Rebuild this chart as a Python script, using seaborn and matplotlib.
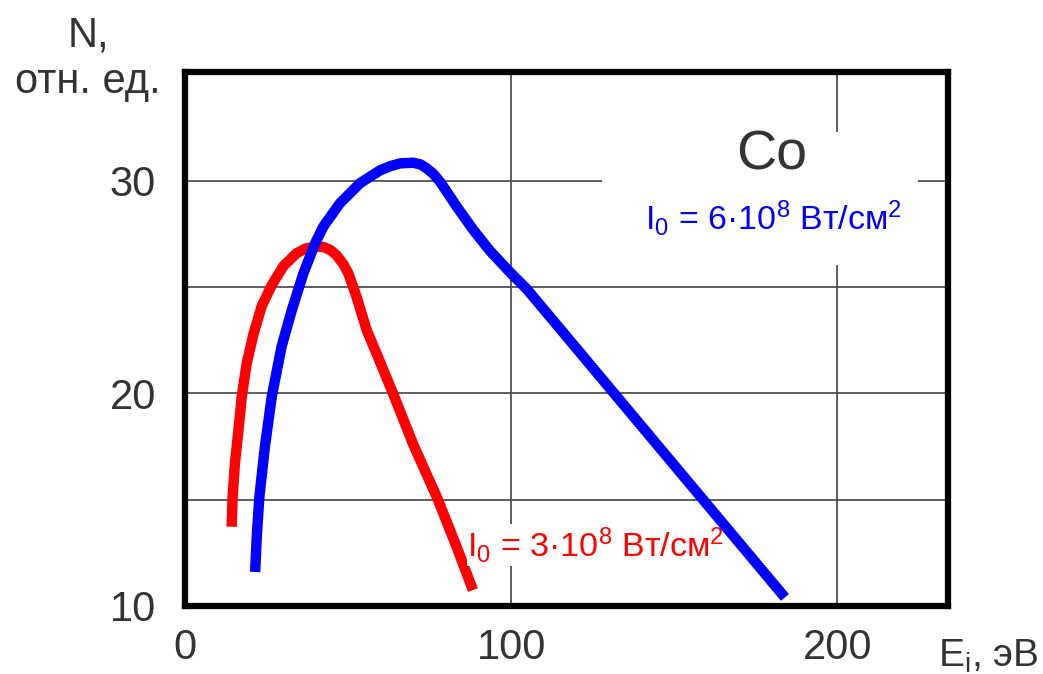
import matplotlib
matplotlib.use("Agg")
import matplotlib.pyplot as plt
import seaborn as sns
import pandas as pd
from matplotlib.ticker import FixedLocator
from matplotlib.patches import Rectangle

# Data
red_x = [14.3, 14.6, 15.3, 16.4, 17.4, 18.9, 21.0, 23.5, 26.6, 30.2, 34.2, 37.0, 39.4, 42.4,
         44.6, 46.5, 48.5, 50.1, 52.6, 55.7, 59.5, 63.8, 70.0, 77.3, 83.0, 88.3]
red_y = [13.73, 15.14, 16.7, 18.3, 19.85, 21.4, 22.8, 24.1, 25.1, 26.0, 26.6, 26.82, 26.9, 26.9,
         26.75, 26.5, 26.1, 25.65, 24.55, 22.99, 21.6, 20.0, 17.6, 15.1, 12.9, 10.75]

blue_x = [21.5, 22.0, 22.8, 24.5, 26.6, 29.6, 32.7, 36.3, 39.9, 42.4, 47.5, 53.7, 59.8, 63.0,
          66.0, 70.0, 72.2, 74.1, 76.2, 78.2, 83.3, 88.4, 93.6, 99.7, 104.9, 184.0]
blue_y = [11.6, 13.26, 15.14, 17.5, 19.85, 22.2, 23.9, 25.65, 27.07, 27.85, 28.95, 29.9, 30.5,
          30.7, 30.83, 30.86, 30.78, 30.6, 30.33, 29.97, 28.8, 27.7, 26.7, 25.7, 24.9, 10.4]

x_ticks = [0, 100, 200]
y_ticks = [10, 20, 30]
y_minor = [15, 25]
grid_x = [100, 200]
grid_y = [15, 20, 25, 30]

title_text = "Co"
blue_label = r"$\mathregular{I_0}$ = 6·10$^\mathregular{8}$ Вт/см$^\mathregular{2}$"
red_label = r"$\mathregular{I_0}$ = 3·10$^\mathregular{8}$ Вт/см$^\mathregular{2}$"

sns.set_style("white")
plt.rcParams["font.family"] = ["Liberation Sans", "DejaVu Sans"]
plt.rcParams["mathtext.fontset"] = "custom"
plt.rcParams["mathtext.rm"] = "Liberation Sans"
plt.rcParams["mathtext.it"] = "Liberation Sans"

fig = plt.figure(figsize=(10.43, 6.74), dpi=100)
ax = fig.add_axes([0.1774, 0.1009, 0.7315, 0.7923])

for gx in grid_x:
    ax.axvline(gx, color="#303030", lw=1.1, zorder=1)
for gy in grid_y:
    ax.axhline(gy, color="#505050", lw=1.3, zorder=1)

# white panel behind the annotation block (interrupts the grid as in the reference)
ax.add_patch(Rectangle((127.9, 26.05), 96.9, 6.25, facecolor="white", edgecolor="none", zorder=2))

df_red = pd.DataFrame({"E": red_x, "N": red_y})
df_blue = pd.DataFrame({"E": blue_x, "N": blue_y})
sns.lineplot(data=df_red, x="E", y="N", sort=False, color="#ff0000", lw=7.5, ax=ax, zorder=3,
             solid_capstyle="butt", solid_joinstyle="round")
sns.lineplot(data=df_blue, x="E", y="N", sort=False, color="#0000ff", lw=7.5, ax=ax, zorder=4,
             solid_capstyle="butt", solid_joinstyle="round")

ax.set_xlim(0, 234)
ax.set_ylim(10, 35.13)
ax.set_xticks(x_ticks)
ax.set_yticks(y_ticks)
ax.yaxis.set_minor_locator(FixedLocator(y_minor))
ax.tick_params(axis="both", which="major", direction="out", length=7, width=4.5,
               labelsize=30, labelcolor="#333333", color="black")
ax.tick_params(axis="y", which="major", pad=14)
ax.tick_params(axis="x", which="major", pad=9)
ax.tick_params(axis="y", which="minor", direction="out", length=4, width=3, color="black")
ax.set_xlabel("")
ax.set_ylabel("")
for s in ax.spines.values():
    s.set_linewidth(4.5)
    s.set_color("black")
    s.set_visible(True)

ax.text(180, 31.2, title_text, fontsize=40, color="#333333", ha="center", va="center", zorder=5)
ax.text(180.4, 28.26, blue_label, fontsize=24.5, color="#0000ff", ha="center", va="center",
        zorder=5)
ax.text(126, 12.87, red_label, fontsize=24.5, color="#ff0000", ha="center", va="center",
        zorder=3.5, bbox=dict(facecolor="white", edgecolor="none", pad=0.5))

fig.text(88 / 1043, 1 - 35 / 674, "N,", fontsize=30, color="#333333", ha="center", va="center")
fig.text(88 / 1043, 1 - 82 / 674, "отн. ед.", fontsize=30, color="#333333", ha="center", va="center")
fig.text(988 / 1043, 1 - 656 / 674, r"E$_\mathregular{i}$, эВ", fontsize=28, color="#333333",
         ha="center", va="center")

fig.savefig("out.png", dpi=100, facecolor="white")
